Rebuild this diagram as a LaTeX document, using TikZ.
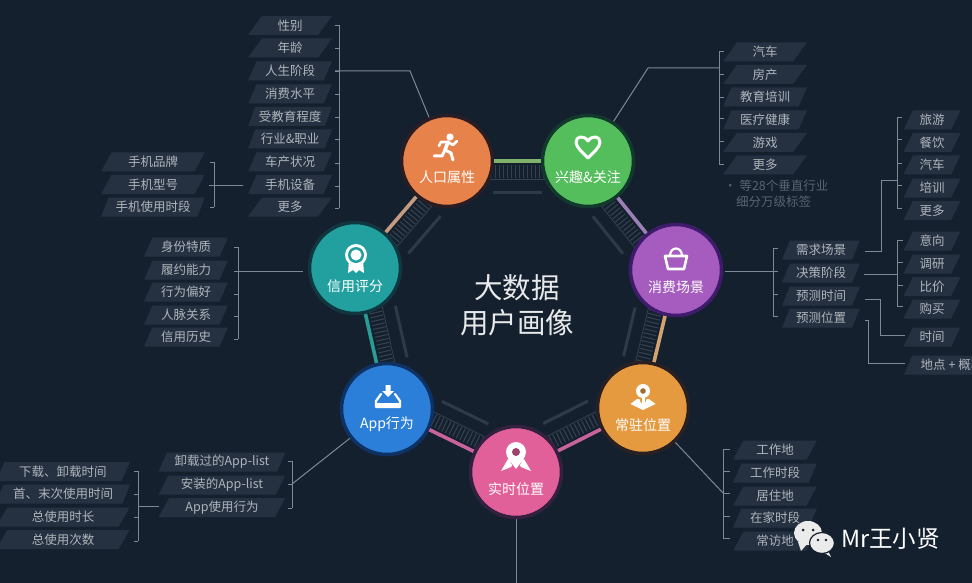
\documentclass[tikz,border=0pt]{standalone}
\usepackage{fontspec}
\setmainfont{Noto Sans CJK SC}
\usetikzlibrary{calc,shapes.geometric}
\definecolor{bgc}{HTML}{15202F}
\definecolor{tagc}{HTML}{253041}
\definecolor{tagt}{HTML}{AEB5BC}
\definecolor{brkc}{HTML}{7E8995}
\definecolor{hatchc}{HTML}{364150}
\definecolor{dashc}{HTML}{2F3A48}
\definecolor{notec}{HTML}{5A6470}
\definecolor{hubA}{HTML}{E8824B}\definecolor{ringA}{HTML}{2A1E24}
\definecolor{hubB}{HTML}{55BE5C}\definecolor{ringB}{HTML}{123A2C}
\definecolor{hubC}{HTML}{A55CBE}\definecolor{ringC}{HTML}{3F1C6B}
\definecolor{hubD}{HTML}{E59A40}\definecolor{ringD}{HTML}{2A2022}
\definecolor{hubE}{HTML}{E2609A}\definecolor{ringE}{HTML}{34203F}
\definecolor{hubF}{HTML}{2B7FD9}\definecolor{ringF}{HTML}{0F3264}
\definecolor{hubG}{HTML}{22A0A0}\definecolor{ringG}{HTML}{10363F}
\definecolor{lkgreen}{HTML}{7FB36C}
\definecolor{lkviolet}{HTML}{9C7FB5}
\definecolor{lktanb}{HTML}{D2A36E}
\definecolor{lkpink}{HTML}{C9639B}
\definecolor{lkteal}{HTML}{2B9C94}
\definecolor{lktana}{HTML}{C49A80}
\tikzset{
  tagbox/.style={trapezium,trapezium stretches=true,trapezium left angle=62,trapezium right angle=118,
    fill=tagc,text=tagt,inner sep=0pt,minimum height=19pt,minimum width=#1,font=\fontsize{12.5}{14}\selectfont},
  tagbox/.default=84pt,
  hub/.style={circle,inner sep=0pt,minimum size=91pt,line width=3.5pt},
  hubtext/.style={text=white,inner sep=0pt,font=\fontsize{14}{16}\selectfont},
  brk/.style={draw=brkc,line width=.9pt},
  leader/.style={draw=brkc,line width=1pt},
  link/.style={line width=3.6pt},
  icon/.style={draw=white,line width=2.6pt,line cap=round,line join=round},
  note/.style={text=notec,inner sep=0pt,anchor=west,font=\fontsize{12.5}{14}\selectfont},
  title/.style={text=white!90!bgc,inner sep=0pt,font=\fontsize{28.5}{32}\selectfont},
}
\newcommand\mybracket[5]{% spine x, tick x, first y, last y, tick list
  \foreach \yy in {#5} \draw[brk] (#1,\yy) -- (#2,\yy);
  \draw[brk] (#1,#3) -- (#1,#4);
}
\begin{document}
\begin{tikzpicture}[x=1pt,y=-1pt]
\clip (0,0) rectangle (972,583);
\fill[bgc] (0,0) rectangle (972,583);
% hub centres
\coordinate (cA) at (447,161);
\coordinate (cB) at (588,161);
\coordinate (cC) at (676,270);
\coordinate (cD) at (643,408);
\coordinate (cE) at (516,472);
\coordinate (cF) at (387,409);
\coordinate (cG) at (355,268);
% hatch bands, thin lines, dashes on the inner side of the ring
\foreach \a/\b in {cA/cB,cB/cC,cC/cD,cD/cE,cE/cF,cF/cG,cG/cA}{
  \draw[hatchc,line width=13pt,dash pattern=on 1.1pt off 2.9pt]
    ($(\a)!10.5pt!-90:(\b)$) -- ($(\b)!10.5pt!90:(\a)$);
  \draw[hatchc,line width=.8pt] ($(\a)!18pt!-90:(\b)$) -- ($(\b)!18pt!90:(\a)$);
  \draw[dashc,line width=3pt,shorten >=46pt,shorten <=46pt]
    ($(\a)!31pt!-90:(\b)$) -- ($(\b)!31pt!90:(\a)$);
}
% hubs
\node[hub,fill=hubA,draw=ringA] (pop) at (cA) {};
\node[hub,fill=hubB,draw=ringB] (int) at (cB) {};
\node[hub,fill=hubC,draw=ringC] (con) at (cC) {};
\node[hub,fill=hubD,draw=ringD] (res) at (cD) {};
\node[hub,fill=hubE,draw=ringE] (rt)  at (cE) {};
\node[hub,fill=hubF,draw=ringF] (app) at (cF) {};
\node[hub,fill=hubG,draw=ringG] (cre) at (cG) {};
\node[hubtext] (popT) at ($(cA)+(0,16)$) {人口属性};
\node[hubtext] (intT) at ($(cB)+(0,16)$) {兴趣\&关注};
\node[hubtext] (conT) at ($(cC)+(0,17)$) {消费场景};
\node[hubtext] (resT) at ($(cD)+(0,17)$) {常驻位置};
\node[hubtext] (rtT)  at ($(cE)+(0,17)$) {实时位置};
\node[hubtext] (appT) at ($(cF)+(0,15)$) {App行为};
\node[hubtext] (creT) at ($(cG)+(0,18)$) {信用评分};
% ring links
\draw[link,lkgreen] (pop) -- (int);
\draw[link,lkviolet] (int) -- (con);
\draw[link,lktanb] (con) -- (res);
\draw[link,lkpink] (res) -- (rt);
\draw[link,lkpink] (rt) -- (app);
\draw[link,lkteal] (app) -- (cre);
\draw[link,lktana] (cre) -- (pop);
% centre title
\node[title] (t1) at (517,288) {大数据};
\node[title] (t2) at (517,323) {用户画像};
% icons
\begin{scope}[shift={(447,147)}]% runner
  \fill[white] (3,-10) circle (3.6);
  \draw[icon,line width=3.6pt] (1,-5) -- (-2,3);
  \draw[icon] (1,-5) -- (6,-2) -- (10,-6);
  \draw[icon] (1,-5) -- (-6,-5) -- (-8,-1);
  \draw[icon,line width=3pt] (-2,3) -- (4,6) -- (6,13);
  \draw[icon,line width=3pt] (-2,3) -- (-5,9) -- (-13,9);
\end{scope}
\begin{scope}[shift={(588,147)}]% heart
  \draw[icon,line width=3pt] (0,11) .. controls (-6,5) and (-12,0) .. (-12,-5)
    .. controls (-12,-11) and (-4,-12) .. (0,-6)
    .. controls (4,-12) and (12,-11) .. (12,-5)
    .. controls (12,0) and (6,5) .. (0,11) -- cycle;
\end{scope}
\begin{scope}[shift={(676,259)}]% bag
  \draw[icon] (-11,-3) -- (11,-3) -- (8,10) -- (-8,10) -- cycle;
  \draw[icon,line width=2.2pt] (-6,-3) .. controls (-6,-13) and (6,-13) .. (6,-3);
\end{scope}
\begin{scope}[shift={(356,255)}]% badge
  \fill[white] (-7,6) -- (-8,18) -- (-3,15) -- (0,18) -- (3,15) -- (8,18) -- (7,6) -- cycle;
  \fill[white] (0,0) circle (11);
  \fill[hubG] (0,0) circle (8);
  \fill[white] (0,0) circle (5.5);
\end{scope}
\begin{scope}[shift={(388,396)}]% download tray
  \fill[white] (-2.5,-11) -- (2.5,-11) -- (2.5,-5) -- (6,-5) -- (0,1) -- (-6,-5) -- (-2.5,-5) -- cycle;
  \draw[icon,line width=2.2pt] (-7,-2) -- (-12,5) -- (-12,11) -- (12,11) -- (12,5) -- (7,-2);
  \fill[white] (-12,7) rectangle (12,12);
\end{scope}
\begin{scope}[shift={(516,453)}]% rocket pin
  \fill[white] (-8,6) -- (-15,18) -- (-5,14) -- (-2,10) -- cycle;
  \fill[white] (8,6) -- (15,18) -- (5,14) -- (2,10) -- cycle;
  \fill[hubE] (-6,8) -- (0,19) -- (6,8) -- cycle;
  \fill[white] (-10,-1) arc[start angle=180,end angle=360,radius=10] .. controls (10,5) and (4,10) .. (0,16) .. controls (-4,10) and (-10,5) .. (-10,-1) -- cycle;
  \fill[hubE!70!black] (0,-1) circle (4);
\end{scope}
\begin{scope}[shift={(643,391)}]% map pin
  \fill[white] (-6,8) -- (6,8) -- (12.5,13) -- (0,19) -- (-12.5,13) -- cycle;
  \fill[hubD] (-4,7) -- (4,7) -- (2,12) -- (-2,12) -- cycle;
  \draw[white,line width=3pt] (0,5) -- (0,13);
  \fill[white] (0,0) circle (7);
  \fill[hubD!70!black] (0,0) circle (2.8);
\end{scope}
% population tags
\node[tagbox] (g1a) at (290,25.5) {性别};
\node[tagbox] (g1b) at (290,48) {年龄};
\node[tagbox] (g1c) at (290,71) {人生阶段};
\node[tagbox] (g1d) at (290,94) {消费水平};
\node[tagbox] (g1e) at (290,116.5) {受教育程度};
\node[tagbox] (g1f) at (290,139) {行业\&职业};
\node[tagbox] (g1g) at (290,162) {车产状况};
\node[tagbox] (g1h) at (290,184.5) {手机设备};
\node[tagbox] (g1i) at (290,207) {更多};
\mybracket{339}{335}{25}{208}{25,48,71,94,117,139,163,186,208}
\coordinate (b1) at (335,71);
\coordinate (b1e) at (410,71);
\draw[leader] (b1) -- (b1e) -- (pop);
% phone tags
\node[tagbox=104pt] (g2a) at (153,162) {手机品牌};
\node[tagbox=104pt] (g2b) at (153,184.5) {手机型号};
\node[tagbox=104pt] (g2c) at (153,207) {手机使用时段};
\mybracket{214}{210}{162}{207}{162,207}
\coordinate (b2) at (209,185);
\coordinate (b2e) at (243,185);
\draw[leader] (b2) -- (b2e);
% credit tags
\node[tagbox] (g3a) at (186,247) {身份特质};
\node[tagbox] (g3b) at (186,270) {履约能力};
\node[tagbox] (g3c) at (186,292) {行为偏好};
\node[tagbox] (g3d) at (186,315) {人脉关系};
\node[tagbox] (g3e) at (186,337) {信用历史};
\mybracket{238}{234}{247}{339}{247,271,294,316,339}
\coordinate (b3) at (234,271);
\coordinate (b3e) at (303,271);
\draw[leader] (b3) -- (b3e);
% app tags
\node[tagbox=127pt] (g4a) at (222,462) {卸载过的App-list};
\node[tagbox=127pt] (g4b) at (222,485) {安装的App-list};
\node[tagbox=127pt] (g4c) at (222,507.5) {App使用行为};
\mybracket{292}{288}{461}{508}{461,484,508}
\coordinate (b4) at (292,484);
\draw[leader] (b4) -- (app);
% app detail tags
\node[tagbox=134pt] (g5a) at (63,471.5) {下载、卸载时间};
\node[tagbox=134pt] (g5b) at (63,494) {首、末次使用时间};
\node[tagbox=134pt] (g5c) at (63,517) {总使用时长};
\node[tagbox=134pt] (g5d) at (63,539.5) {总使用次数};
\mybracket{138}{134}{471}{541}{471,494,517,541}
\coordinate (b5) at (138,506);
\coordinate (b5e) at (159,506);
\draw[leader] (b5) -- (b5e);
% interest tags
\node[tagbox] (g6a) at (765,52) {汽车};
\node[tagbox] (g6b) at (765,74.5) {房产};
\node[tagbox] (g6c) at (765,97) {教育培训};
\node[tagbox] (g6d) at (765,120) {医疗健康};
\node[tagbox] (g6e) at (765,142.5) {游戏};
\node[tagbox] (g6f) at (765,165) {更多};
\mybracket{719}{724}{51}{164}{51,74,97,118,141,164}
\coordinate (b6) at (719,68);
\coordinate (b6e) at (648,68);
\draw[leader] (b6) -- (b6e) -- (int);
\node[note] (n1) at (724,186) {•\ 等28个垂直行业};
\node[note] (n2) at (736,201.5) {细分万级标签};
% consumption tags
\node[tagbox=78pt] (g7a) at (821,250) {需求场景};
\node[tagbox=78pt] (g7b) at (821,273) {决策阶段};
\node[tagbox=78pt] (g7c) at (821,296) {预测时间};
\node[tagbox=78pt] (g7d) at (821,318) {预测位置};
\mybracket{773}{778}{248}{316}{248,271,294,316}
\coordinate (b7s) at (725,271);
\coordinate (b7) at (778,271);
\draw[leader] (b7s) -- (b7);
% scene tags
\node[tagbox=57pt] (g8a) at (932,120) {旅游};
\node[tagbox=57pt] (g8b) at (932,142.5) {餐饮};
\node[tagbox=57pt] (g8c) at (932,165) {汽车};
\node[tagbox=57pt] (g8d) at (932,188) {培训};
\node[tagbox=57pt] (g8e) at (932,210.5) {更多};
\mybracket{897}{902}{117}{208}{117,139,163,185,208}
\coordinate (b8) at (897,180);
\coordinate (b8m) at (881,180);
\coordinate (b8n) at (881,251);
\coordinate (b8s) at (865,251);
\draw[leader] (b8) -- (b8m) -- (b8n) -- (b8s);
% decision tags
\node[tagbox=57pt] (g9a) at (932,241) {意向};
\node[tagbox=57pt] (g9b) at (932,264) {调研};
\node[tagbox=57pt] (g9c) at (932,286.5) {比价};
\node[tagbox=57pt] (g9d) at (932,309) {购买};
\mybracket{897}{903}{240}{306}{240,262,285,306}
\coordinate (b9s) at (864,274);
\coordinate (b9) at (897,274);
\draw[leader] (b9s) -- (b9);
% time and place tags
\node[tagbox=57pt] (g10) at (932,337) {时间};
\node[tagbox=96pt] (g11) at (952,365) {地点 + 概率};
\coordinate (b10s) at (865,299);
\coordinate (b10) at (880,299);
\coordinate (b10n) at (880,335);
\coordinate (b10e) at (905,335);
\draw[leader] (b10s) -- (b10) -- (b10n) -- (b10e);
\coordinate (b11s) at (865,320);
\coordinate (b11) at (868,320);
\coordinate (b11n) at (868,363);
\coordinate (b11e) at (905,363);
\draw[leader] (b11s) -- (b11) -- (b11n) -- (b11e);
% residence tags
\node[tagbox] (g12a) at (775,450) {工作地};
\node[tagbox] (g12b) at (775,473) {工作时段};
\node[tagbox] (g12c) at (775,496) {居住地};
\node[tagbox] (g12d) at (775,518) {在家时段};
\node[tagbox] (g12e) at (775,541) {常访地};
\mybracket{723}{730}{449}{538}{449,471,493,516,538}
\coordinate (b12) at (723,493);
\draw[leader] (res) -- (b12);
% bottom leader
\coordinate (b13) at (516,583);
\draw[leader] (rt) -- (b13);
% watermark
\begin{scope}[shift={(808,533)}]
  \fill[white!92!black] (-10,9) -- (-7,18) -- (0,10) -- cycle;
  \fill[white!92!black] (0,0) ellipse (14 and 12);
  \fill[bgc] (-5,-3) circle (1.5);
  \fill[bgc] (5,-3) circle (1.5);
\end{scope}
\begin{scope}[shift={(822,543)}]
  \fill[white!92!black] (6,8) -- (9,14) -- (1,9) -- cycle;
  \filldraw[fill=white!92!black,draw=bgc,line width=1.2pt] (0,0) ellipse (12.5 and 10.5);
  \fill[bgc] (-4,-3) circle (1.4);
  \fill[bgc] (4,-3) circle (1.4);
\end{scope}
\node[text=white,inner sep=0pt,anchor=west,font=\fontsize{23.5}{28}\selectfont] (wm) at (841,539) {Mr王小贤};
\end{tikzpicture}
\end{document}
